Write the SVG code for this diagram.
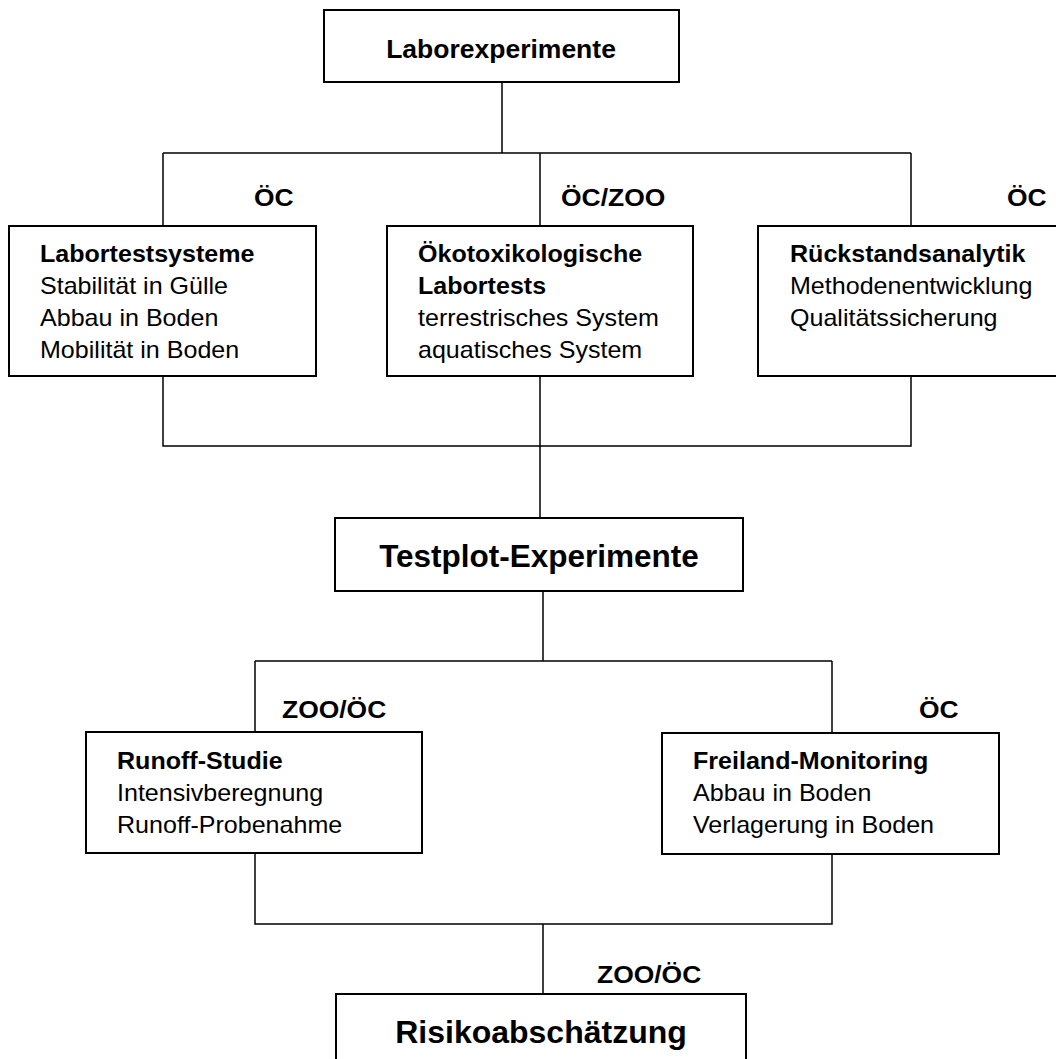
<svg xmlns="http://www.w3.org/2000/svg" width="1056" height="1059" viewBox="0 0 1056 1059">
<style>
.box{fill:#fff;stroke:#000;stroke-width:2}
.con{fill:none;stroke:#000;stroke-width:1.5}
text{font-family:"Liberation Sans",Arial,sans-serif;fill:#000}
.h{font-weight:bold;text-anchor:middle}
.lab{font-weight:bold;font-size:23px}
.t{font-size:23px}
.tb{font-size:23px;font-weight:bold}
</style>
<rect width="1056" height="1059" fill="#fff"/>
<g id="connectors">
<path class="con" d="M502,82 V153 M163,153 H911 M163,153 V226 M540,153 V226 M911,153 V226"/>
<path class="con" d="M163,376 V446 H911 V376 M540,376 V446 M540,446 V518"/>
<path class="con" d="M543,591 V661 M255,661 H832 M255,661 V732 M832,661 V733"/>
<path class="con" d="M255,853 V924 H832 V854 M543,924 V994"/>
</g>
<g id="laborexperimente">
<rect class="box" x="324" y="10" width="355" height="72"/>
<text class="h" x="501" y="58" style="font-size:26.5px">Laborexperimente</text>
</g>
<g id="label-oc1" transform="translate(254,0) scale(1.15,1)"><text class="lab" x="0" y="206">ÖC</text></g>
<g id="label-oczoo" transform="translate(561,0) scale(1.15,1)"><text class="lab" x="0" y="206">ÖC/ZOO</text></g>
<g id="label-oc2" transform="translate(1007,0) scale(1.15,1)"><text class="lab" x="0" y="206">ÖC</text></g>
<g id="labortestsysteme">
<rect class="box" x="9" y="226" width="307" height="150"/>
<g transform="translate(40,0) scale(1.09,1)">
<text class="tb" x="0" y="262">Labortestsysteme</text>
<text class="t" x="0" y="294">Stabilität in Gülle</text>
<text class="t" x="0" y="326">Abbau in Boden</text>
<text class="t" x="0" y="358">Mobilität in Boden</text>
</g>
</g>
<g id="oekotox">
<rect class="box" x="387" y="226" width="306" height="150"/>
<g transform="translate(418,0) scale(1.09,1)">
<text class="tb" x="0" y="262">Ökotoxikologische</text>
<text class="tb" x="0" y="294">Labortests</text>
<text class="t" x="0" y="326">terrestrisches System</text>
<text class="t" x="0" y="358">aquatisches System</text>
</g>
</g>
<g id="rueckstand">
<rect class="box" x="758" y="226" width="310" height="150"/>
<g transform="translate(790,0) scale(1.09,1)">
<text class="tb" x="0" y="262">Rückstandsanalytik</text>
<text class="t" x="0" y="294">Methodenentwicklung</text>
<text class="t" x="0" y="326">Qualitätssicherung</text>
</g>
</g>
<g id="testplot">
<rect class="box" x="335" y="518" width="408" height="73"/>
<text class="h" x="539" y="567" style="font-size:31.5px">Testplot-Experimente</text>
</g>
<g id="label-zoooc1" transform="translate(282,0) scale(1.15,1)"><text class="lab" x="0" y="718">ZOO/ÖC</text></g>
<g id="label-oc3" transform="translate(919,0) scale(1.15,1)"><text class="lab" x="0" y="718">ÖC</text></g>
<g id="runoff">
<rect class="box" x="86" y="732" width="336" height="121"/>
<g transform="translate(117,0) scale(1.09,1)">
<text class="tb" x="0" y="769">Runoff-Studie</text>
<text class="t" x="0" y="801">Intensivberegnung</text>
<text class="t" x="0" y="833">Runoff-Probenahme</text>
</g>
</g>
<g id="freiland">
<rect class="box" x="662" y="733" width="337" height="121"/>
<g transform="translate(693,0) scale(1.09,1)">
<text class="tb" x="0" y="769">Freiland-Monitoring</text>
<text class="t" x="0" y="801">Abbau in Boden</text>
<text class="t" x="0" y="833">Verlagerung in Boden</text>
</g>
</g>
<g id="label-zoooc2" transform="translate(597,0) scale(1.15,1)"><text class="lab" x="0" y="983">ZOO/ÖC</text></g>
<g id="risiko">
<rect class="box" x="336" y="994" width="410" height="80"/>
<text class="h" x="541" y="1043" style="font-size:32px">Risikoabschätzung</text>
</g>
</svg>
